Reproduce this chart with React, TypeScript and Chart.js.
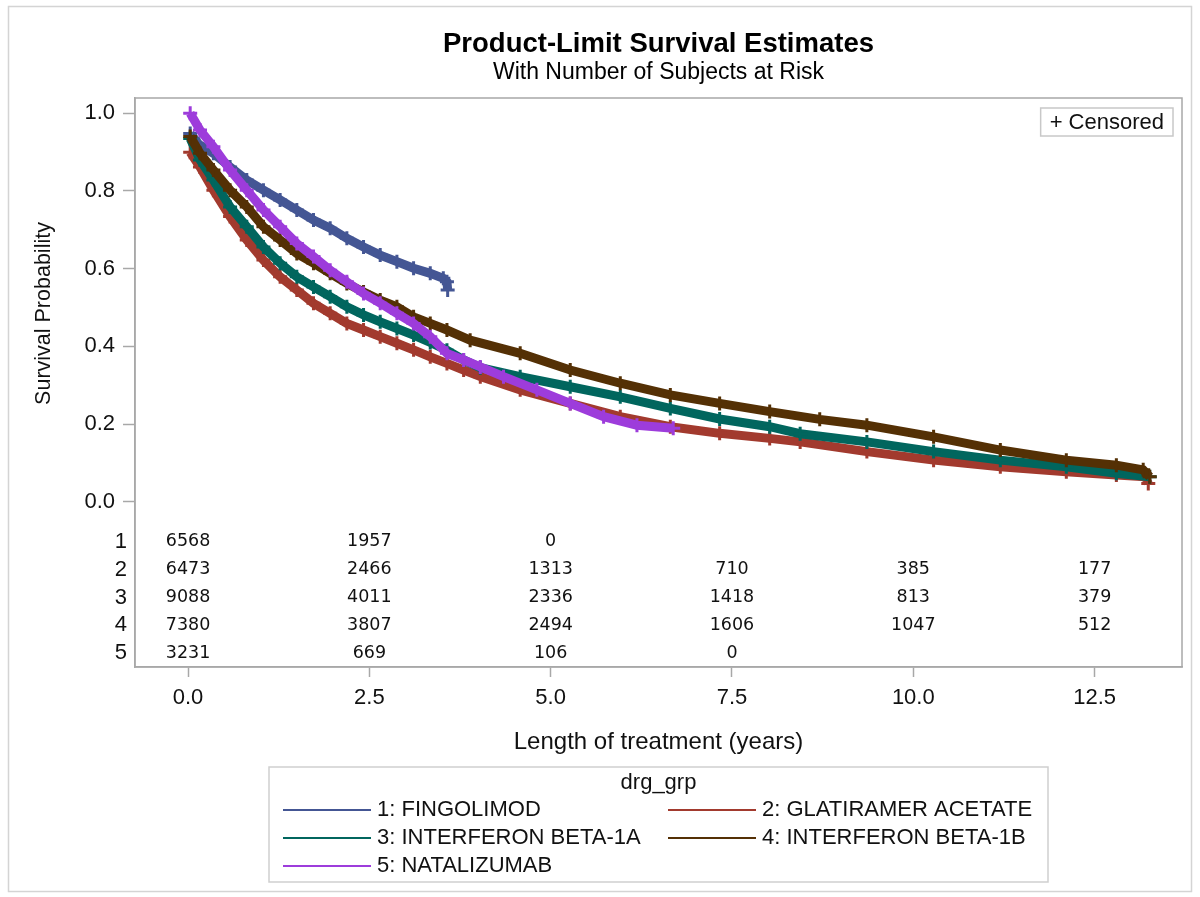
import React, { useEffect, useRef } from "react";
import { Chart, registerables } from "chart.js";

Chart.register(...registerables);

// ---- data ----
const groupLabels = [
  "1: FINGOLIMOD",
  "2: GLATIRAMER ACETATE",
  "3: INTERFERON BETA-1A",
  "4: INTERFERON BETA-1B",
  "5: NATALIZUMAB",
];
const groupColors = ["#445694", "#A23A2E", "#01665E", "#543005", "#9D3CDB"];

const fingolimodT = [0.03, 0.15, 0.35, 0.58, 0.81, 1.04, 1.27, 1.5, 1.73, 1.96, 2.19, 2.42, 2.65, 2.88, 3.11, 3.34, 3.52, 3.57, 3.58];
const fingolimodS = [0.948, 0.92, 0.897, 0.862, 0.828, 0.802, 0.777, 0.751, 0.725, 0.704, 0.678, 0.656, 0.635, 0.618, 0.601, 0.588, 0.575, 0.566, 0.545];

const glatiramerT = [0.03, 0.165, 0.35, 0.58, 0.81, 1.04, 1.27, 1.5, 1.73, 1.96, 2.19, 2.42, 2.65, 2.88, 3.11, 3.34, 3.57, 3.8, 4.03, 4.58, 5.27, 5.96, 6.65, 7.33, 8.02, 8.44, 9.36, 10.28, 11.2, 12.11, 12.8, 13.2, 13.24];
const glatiramerS = [0.9, 0.862, 0.802, 0.734, 0.674, 0.622, 0.579, 0.545, 0.511, 0.485, 0.459, 0.442, 0.425, 0.408, 0.391, 0.373, 0.356, 0.339, 0.322, 0.288, 0.253, 0.219, 0.193, 0.176, 0.163, 0.154, 0.129, 0.107, 0.09, 0.077, 0.069, 0.064, 0.047];

const beta1aT = [0.03, 0.165, 0.35, 0.58, 0.81, 1.04, 1.27, 1.5, 1.73, 1.96, 2.19, 2.42, 2.65, 2.88, 3.11, 3.34, 3.57, 3.8, 4.03, 4.58, 5.27, 5.96, 6.65, 7.33, 8.02, 8.44, 9.36, 10.28, 11.2, 12.11, 12.8, 13.26];
const beta1aS = [0.935, 0.88, 0.828, 0.759, 0.708, 0.656, 0.614, 0.579, 0.553, 0.528, 0.502, 0.481, 0.463, 0.446, 0.429, 0.41, 0.39, 0.365, 0.345, 0.322, 0.296, 0.27, 0.24, 0.213, 0.193, 0.175, 0.154, 0.129, 0.107, 0.09, 0.073, 0.064];

const beta1bT = [0.03, 0.165, 0.35, 0.58, 0.81, 1.04, 1.27, 1.5, 1.73, 1.96, 2.19, 2.42, 2.65, 2.88, 3.11, 3.34, 3.57, 3.89, 4.58, 5.27, 5.96, 6.65, 7.33, 8.02, 8.71, 9.36, 10.28, 11.2, 12.11, 12.8, 13.17, 13.26];
const beta1bS = [0.94, 0.897, 0.854, 0.802, 0.759, 0.708, 0.674, 0.639, 0.614, 0.588, 0.562, 0.54, 0.519, 0.502, 0.476, 0.459, 0.442, 0.416, 0.382, 0.339, 0.305, 0.275, 0.253, 0.232, 0.212, 0.197, 0.167, 0.133, 0.107, 0.094, 0.082, 0.064];

const natalizumabT = [0.03, 0.165, 0.35, 0.58, 0.81, 1.04, 1.27, 1.5, 1.73, 1.96, 2.19, 2.42, 2.65, 2.88, 3.11, 3.34, 3.57, 3.8, 4.03, 4.35, 4.81, 5.27, 5.73, 6.19, 6.69];
const natalizumabS = [1.0, 0.957, 0.914, 0.854, 0.802, 0.751, 0.708, 0.665, 0.631, 0.596, 0.566, 0.536, 0.511, 0.485, 0.459, 0.425, 0.382, 0.365, 0.347, 0.322, 0.288, 0.253, 0.219, 0.197, 0.189];

const riskTimes = [0, 2.5, 5, 7.5, 10, 12.5];
const riskRow1 = [6568, 1957, 0, null, null, null];
const riskRow2 = [6473, 2466, 1313, 710, 385, 177];
const riskRow3 = [9088, 4011, 2336, 1418, 813, 379];
const riskRow4 = [7380, 3807, 2494, 1606, 1047, 512];
const riskRow5 = [3231, 669, 106, 0, null, null];

const xTickValues = [0, 2.5, 5, 7.5, 10, 12.5];
const yTickValues = [0, 0.2, 0.4, 0.6, 0.8, 1.0];

const titleText = "Product-Limit Survival Estimates";
const subtitleText = "With Number of Subjects at Risk";
const xTitle = "Length of treatment (years)";
const yTitle = "Survival Probability";
const legendTitle = "drg_grp";

const FONT = "'Liberation Sans', Arial, sans-serif";

export default function App() {
  const ref = useRef<HTMLCanvasElement | null>(null);

  useEffect(() => {
    const canvas = ref.current;
    if (!canvas) return;
    const series = [
      [fingolimodT, fingolimodS],
      [glatiramerT, glatiramerS],
      [beta1aT, beta1aS],
      [beta1bT, beta1bS],
      [natalizumabT, natalizumabS],
    ];
    const riskRows = [riskRow1, riskRow2, riskRow3, riskRow4, riskRow5];

    const datasets = series.map(([t, s], i) => ({
      label: groupLabels[i],
      data: t.map((x, k) => ({ x, y: s[k] })),
      borderColor: groupColors[i],
      backgroundColor: groupColors[i],
      borderWidth: 9,
      pointStyle: "cross" as const,
      pointRadius: 7,
      pointBorderWidth: 3,
      pointHoverRadius: 7,
      tension: 0,
      fill: false,
      order: 4 - i,
    }));

    const decor = {
      id: "decor",
      beforeDraw(chart: any) {
        const { ctx, width, height } = chart;
        ctx.save();
        ctx.fillStyle = "#fff";
        ctx.fillRect(0, 0, width, height);
        ctx.restore();
      },
      afterDraw(chart: any) {
        const { ctx, chartArea } = chart;
        const xs = chart.scales.x;
        const ys = chart.scales.y;
        const cx = (chartArea.left + chartArea.right) / 2;
        ctx.save();
        // outer border
        ctx.strokeStyle = "#d4d4d4";
        ctx.lineWidth = 1.5;
        ctx.strokeRect(8.5, 6.5, 1183, 885);
        // frame
        ctx.strokeStyle = "#a8a8a8";
        ctx.lineWidth = 1.5;
        ctx.strokeRect(chartArea.left, chartArea.top, chartArea.right - chartArea.left, chartArea.bottom - chartArea.top);
        // titles
        ctx.fillStyle = "#000";
        ctx.textAlign = "center";
        ctx.textBaseline = "middle";
        ctx.font = `bold 27.5px ${FONT}`;
        ctx.fillText(titleText, cx, 44);
        ctx.font = `23px ${FONT}`;
        ctx.fillText(subtitleText, cx, 73);
        // y axis title, centred on the 0..1 range
        const yMid = (ys.getPixelForValue(0) + ys.getPixelForValue(1)) / 2 + 6;
        ctx.save();
        ctx.translate(44, yMid);
        ctx.rotate(-Math.PI / 2);
        ctx.font = `21.5px ${FONT}`;
        ctx.fillStyle = "#111";
        ctx.fillText(yTitle, 0, 0);
        ctx.restore();
        // censored box
        ctx.font = `22px ${FONT}`;
        const cTxt = "+ Censored";
        const cw = ctx.measureText(cTxt).width + 18;
        const cRight = chartArea.right - 9;
        const cTop = chartArea.top + 10;
        ctx.strokeStyle = "#c8c8c8";
        ctx.lineWidth = 1.5;
        ctx.strokeRect(cRight - cw, cTop, cw, 28);
        ctx.fillStyle = "#111";
        ctx.textAlign = "left";
        ctx.fillText(cTxt, cRight - cw + 9, cTop + 15);
        // risk table
        const zero = ys.getPixelForValue(0);
        for (let r = 0; r < riskRows.length; r++) {
          const y = zero + 40 + r * 27.9;
          ctx.font = `22px ${FONT}`;
          ctx.textAlign = "right";
          ctx.fillStyle = "#111";
          ctx.fillText(String(r + 1), chartArea.left - 8, y);
          ctx.font = `17.5px 'DejaVu Sans', sans-serif`;
          ctx.textAlign = "center";
          riskRows[r].forEach((v, k) => {
            if (v === null || v === undefined) return;
            ctx.fillText(String(v), xs.getPixelForValue(riskTimes[k]), y);
          });
        }
        // legend
        const boxW = 779;
        const boxL = cx - boxW / 2;
        const boxT = 767;
        const boxH = 115;
        ctx.strokeStyle = "#cfcfcf";
        ctx.lineWidth = 1.5;
        ctx.strokeRect(boxL, boxT, boxW, boxH);
        ctx.fillStyle = "#111";
        ctx.font = `22px ${FONT}`;
        ctx.textAlign = "center";
        ctx.fillText(legendTitle, cx, boxT + 16);
        const colX = [boxL + 14, boxL + 399];
        const rowY = [boxT + 43, boxT + 71, boxT + 99];
        groupLabels.forEach((lab, i) => {
          const col = i % 2;
          const row = Math.floor(i / 2);
          const lx = colX[col];
          const ly = rowY[row];
          ctx.strokeStyle = groupColors[i];
          ctx.lineWidth = 2;
          ctx.beginPath();
          ctx.moveTo(lx, ly);
          ctx.lineTo(lx + 88, ly);
          ctx.stroke();
          ctx.fillStyle = "#111";
          ctx.textAlign = "left";
          ctx.fillText(lab, lx + 94, ly);
        });
        ctx.restore();
      },
    };

    const chart = new Chart(canvas, {
      type: "line",
      data: { datasets },
      options: {
        animation: false,
        responsive: false,
        devicePixelRatio: 1,
        events: [],
        layout: { padding: { left: 0, top: 98, right: 18, bottom: 140 } },
        plugins: {
          legend: { display: false },
          title: { display: false },
          tooltip: { enabled: false },
        },
        scales: {
          x: {
            type: "linear",
            min: -0.731,
            max: 13.705,
            afterBuildTicks: (scale: any) => {
              scale.ticks = xTickValues.map((v) => ({ value: v }));
            },
            afterFit: (scale: any) => {
              scale.height = 90;
            },
            ticks: {
              callback: (v: any) => Number(v).toFixed(1),
              font: { family: FONT, size: 22 },
              color: "#111",
              padding: 8,
              maxRotation: 0,
              autoSkip: false,
            },
            grid: {
              display: true,
              drawOnChartArea: false,
              drawTicks: true,
              tickLength: 10,
              tickWidth: 1.5,
              tickColor: "#a8a8a8",
            },
            border: { display: true, color: "#a8a8a8", width: 1.5 },
            title: {
              display: true,
              text: xTitle,
              font: { family: FONT, size: 24 },
              color: "#111",
              padding: { top: 0, bottom: 0 },
            },
          },
          y: {
            type: "linear",
            min: -0.4256,
            max: 1.0394,
            afterBuildTicks: (scale: any) => {
              scale.ticks = yTickValues.map((v) => ({ value: v }));
            },
            afterFit: (scale: any) => {
              scale.width = 135;
            },
            ticks: {
              callback: (v: any) => Number(v).toFixed(1),
              font: { family: FONT, size: 22 },
              color: "#111",
              padding: 8,
              autoSkip: false,
            },
            grid: {
              display: true,
              drawOnChartArea: false,
              drawTicks: true,
              tickLength: 12,
              tickWidth: 1.5,
              tickColor: "#a8a8a8",
            },
            border: { display: true, color: "#a8a8a8", width: 1.5 },
            title: { display: false },
          },
        },
      },
      plugins: [decor],
    });
    return () => chart.destroy();
  }, []);

  return (
    <div style={{ position: "absolute", left: 0, top: 0, width: 1200, height: 897, background: "#fff" }}>
      <canvas ref={ref} width={1200} height={897} style={{ display: "block", width: 1200, height: 897 }} />
    </div>
  );
}
